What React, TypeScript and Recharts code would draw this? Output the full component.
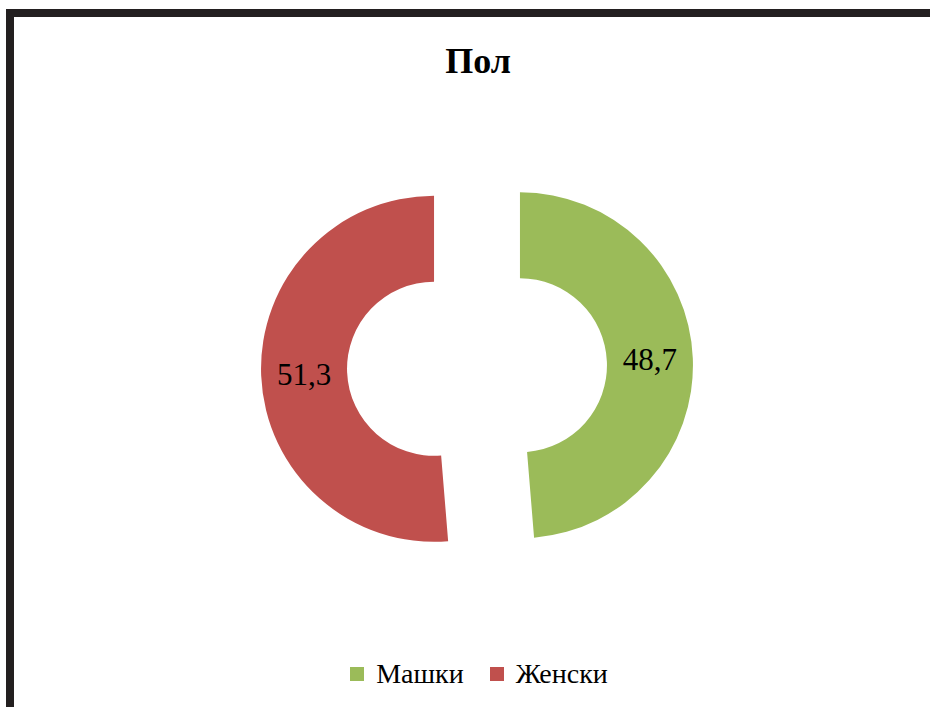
import { PieChart, Pie, Cell, Sector, Legend } from 'recharts'

const categories = ['Машки', 'Женски']
const values = [48.7, 51.3]
const colors = ['#9bbb59', '#c0504d']

const data = categories.map((name, i) => ({ name, value: values[i] }))

const RAD = Math.PI / 180
const EXPLODE = 43
const FONT = '"Liberation Serif", "Times New Roman", serif'

const shift = (midAngle: number) => ({
  dx: EXPLODE * Math.cos(-midAngle * RAD),
  dy: EXPLODE * Math.sin(-midAngle * RAD),
})

const ExplodedSector = (props: any) => {
  const { cx, cy, midAngle } = props
  const { dx, dy } = shift(midAngle)
  return <Sector {...props} cx={cx + dx} cy={cy + dy} stroke="none" />
}

const renderLabel = (props: any) => {
  const { cx, cy, midAngle, innerRadius, outerRadius, value } = props
  const { dx, dy } = shift(midAngle)
  const r = (innerRadius + outerRadius) / 2
  const x = cx + dx + r * Math.cos(-midAngle * RAD)
  const y = cy + dy + r * Math.sin(-midAngle * RAD)
  return (
    <text
      x={x}
      y={y}
      textAnchor="middle"
      dominantBaseline="central"
      fill="#000"
      fontFamily={FONT}
      fontSize={31}
    >
      {Number(value).toFixed(1).replace('.', ',')}
    </text>
  )
}

const renderLegend = () => (
  <div style={{ display: 'flex', justifyContent: 'center', fontFamily: FONT, fontSize: 28, color: '#000' }}>
    {categories.map((c, i) => (
      <div key={c} style={{ display: 'flex', alignItems: 'center', marginLeft: i ? 26 : 0 }}>
        <span style={{ display: 'inline-block', width: 14, height: 14, background: colors[i], marginRight: 12 }} />
        <span>{c}</span>
      </div>
    ))}
  </div>
)

export default function App() {
  return (
    <div style={{ position: 'absolute', left: 0, top: 0, width: 930, height: 707, background: '#fff', overflow: 'hidden' }}>
      <div
        style={{
          position: 'absolute',
          left: 6,
          top: 9,
          width: 1000,
          height: 800,
          border: '8px solid #231f20',
        }}
      />
      <div
        style={{
          position: 'absolute',
          left: 0,
          top: 43,
          width: 956,
          textAlign: 'center',
          fontFamily: FONT,
          fontWeight: 'bold',
          fontSize: 36,
          lineHeight: 1,
          color: '#000',
        }}
      >
        Пол
      </div>
      <div style={{ position: 'absolute', left: 0, top: 0 }}>
        <PieChart width={930} height={707} margin={{ top: 0, right: 0, bottom: 0, left: 0 }}>
          <Pie
            data={data}
            dataKey="value"
            nameKey="name"
            cx={477}
            cy={367}
            innerRadius={87}
            outerRadius={173}
            startAngle={90}
            endAngle={-270}
            shape={ExplodedSector}
            label={renderLabel}
            labelLine={false}
            isAnimationActive={false}
          >
            {data.map((d, i) => (
              <Cell key={d.name} fill={colors[i]} />
            ))}
          </Pie>
          <Legend content={renderLegend} wrapperStyle={{ left: 0, top: 658, width: 958 }} />
        </PieChart>
      </div>
    </div>
  )
}
